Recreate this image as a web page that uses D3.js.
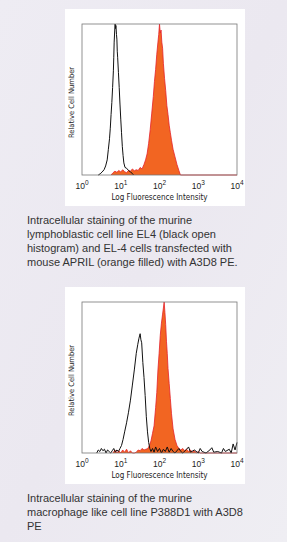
<!DOCTYPE html>
<html>
<head>
<meta charset="utf-8">
<script src="https://cdn.jsdelivr.net/npm/d3@7/dist/d3.min.js"></script>
<style>
  body { margin: 0; padding: 0; overflow: hidden; }
  svg { display: block; }
</style>
</head>
<body>
<div id="container"></div>
<script>
var WIDTH = 287;
var HEIGHT = 542;

// --- data (x = log10 intensity, y = % of max count) ---
const tickDecades = [0, 1, 2, 3, 4];

// panel 1: EL4 (black open) vs EL-4 + APRIL (orange filled)
const el4Log   = [0.42,0.47,0.52,0.57,0.61,0.65,0.68,0.71,0.73,0.75,0.77,0.79,0.81,0.82,0.83,0.845,0.855,0.865,0.875,0.89,0.9,0.91,0.92,0.94,0.96,0.98,1.0,1.02,1.04,1.06,1.08,1.11,1.15,1.2,1.25,1.3,1.33];
const el4Count = [0,0.8,2,3.5,6,10,17,24,31,40,48,58,69,78,88,96,100,97,99,93,90,82,78,68,58,47,37,28,19,13,8,5,4.5,3,2,1,0];

const aprilLog   = [0.75,0.8,0.85,0.9,0.95,1.0,1.05,1.1,1.15,1.2,1.25,1.3,1.35,1.4,1.45,1.5,1.55,1.6,1.64,1.68,1.72,1.76,1.8,1.84,1.87,1.9,1.93,1.96,1.98,2.0,2.02,2.04,2.06,2.08,2.1,2.13,2.16,2.19,2.22,2.25,2.28,2.31,2.35,2.4,2.45,2.5,2.54,4];
const aprilCount = [0,1.5,2.5,1.8,3,2,3.5,2.2,1.5,3,2.5,4,2.8,3.5,3,5,4,7,10,14,21,30,41,52,62,70,80,88,93,100,94,96,88,84,74,64,56,46,40,33,28,23,17,12,7,3,0,0];

// panel 2: P388D1 control (black open) vs stained (orange filled)
const ctrlLog   = [0.38,0.42,0.46,0.5,0.54,0.58,0.62,0.66,0.7,0.74,0.78,0.82,0.86,0.9,0.94,0.98,1.02,1.06,1.1,1.15,1.2,1.25,1.3,1.35,1.4,1.44,1.47,1.5,1.52,1.54,1.57,1.6,1.63,1.66,1.69,1.72,1.75,1.78,1.82,1.86,1.9,1.95,2.0,2.05,2.1,2.15,2.2,2.25,2.3,2.35,2.4,2.5,2.55,2.6,2.7,2.75,2.8,2.9,3.0,3.05,3.1,3.2,3.3,3.35,3.4,3.5,3.6,3.65,3.7,3.8,3.85,3.9,3.95,4.0];
const ctrlCount = [0,2,1,3,1.5,2.5,0,2,1,0,1.5,3,0.5,2,1,3,5,9,14,20,27,35,45,55,66,72,76,79,75,73,60,50,38,24,14,7,3,1,3,0.5,4,1,3,0,2.5,1,4,0.5,3,1,0,3,1,0,2.5,4,0.5,2,0,3,1,0,2,3.5,0.5,1,0,3,1,2.5,0,6,2,7];

const stainLog   = [0.8,0.85,0.9,0.95,1.0,1.05,1.1,1.15,1.2,1.25,1.3,1.35,1.4,1.45,1.5,1.55,1.6,1.65,1.7,1.74,1.78,1.82,1.86,1.9,1.93,1.96,1.99,2.02,2.05,2.08,2.1,2.12,2.14,2.16,2.18,2.2,2.22,2.25,2.28,2.31,2.35,2.4,2.45,2.5,2.55,2.6,2.65,2.7,2.75,2.8,2.85,2.9,2.95,3.0,3.05,4];
const stainCount = [0,2,0,1.5,0,2,0.5,2.5,0,1.5,0,0,0.5,2,1.5,3,2,2.5,3,5,8,13,18,30,40,55,66,78,86,92,96,100,93,85,74,66,56,46,36,26,16,9,5,3,2,3,1.5,2.5,1,2,0.5,1.5,0,1,0,0];

const panels = [
  { top: 9,   open: [el4Log, el4Count],  filled: [aprilLog, aprilCount] },
  { top: 287, open: [ctrlLog, ctrlCount], filled: [stainLog, stainCount] }
];

const captions = [
  ["Intracellular staining of the murine",
   "lymphoblastic cell line EL4 (black open",
   "histogram) and EL-4 cells transfected with",
   "mouse APRIL (orange filled) with A3D8 PE."],
  ["Intracellular staining of the murine",
   "macrophage like cell line P388D1 with A3D8",
   "PE"]
];

const svg = d3.select('#container')
  .append('svg')
    .attr('width', WIDTH)
    .attr('height', HEIGHT);

// page background
const defs = svg.append('defs');
const grad = defs.append('linearGradient')
    .attr('id', 'bg')
    .attr('x1', 0).attr('y1', 0).attr('x2', 1).attr('y2', 1);
grad.append('stop').attr('offset', '0%').attr('stop-color', '#eeecf3');
grad.append('stop').attr('offset', '50%').attr('stop-color', '#ebe8f0');
grad.append('stop').attr('offset', '100%').attr('stop-color', '#efeef3');

svg.append('rect')
    .attr('width', WIDTH)
    .attr('height', HEIGHT)
    .attr('fill', 'url(#bg)');

const PLOT = { LEFT: 82, RIGHT: 237, OFFSET: 15, H: 151 };

const x = d3.scaleLog()
    .domain([1, 10000])
    .range([PLOT.LEFT, PLOT.RIGHT]);

panels.forEach((p, i) => {
  const g = svg.append('g');
  const y0 = p.top + PLOT.OFFSET;
  const y1 = y0 + PLOT.H;

  g.append('rect')
      .attr('x', 65).attr('y', p.top)
      .attr('width', 180).attr('height', 197)
      .attr('fill', 'white');

  const y = d3.scaleLinear()
      .domain([0, 100])
      .range([y1, y0]);

  const toPts = (s) => s[0].map((v, k) => [Math.pow(10, v), s[1][k]]);

  const area = d3.area()
      .x(d => x(d[0]))
      .y0(y(0))
      .y1(d => y(d[1]));
  const line = d3.line()
      .x(d => x(d[0]))
      .y(d => y(d[1]));

  const filled = toPts(p.filled);
  g.append('path')
      .attr('d', area(filled))
      .attr('fill', '#f26522');
  g.append('path')
      .attr('d', line(filled))
      .attr('fill', 'none')
      .attr('stroke', '#e5222a')
      .attr('stroke-width', 0.8);

  g.append('path')
      .attr('d', line(toPts(p.open)))
      .attr('fill', 'none')
      .attr('stroke', '#111')
      .attr('stroke-width', 1);

  // frame
  g.append('rect')
      .attr('x', PLOT.LEFT).attr('y', y0)
      .attr('width', PLOT.RIGHT - PLOT.LEFT).attr('height', PLOT.H)
      .attr('fill', 'none')
      .attr('stroke', '#777')
      .attr('stroke-width', 0.8);

  // tick labels 10^n
  const ticks = g.selectAll('.tick')
      .data(tickDecades)
      .enter()
      .append('text')
      .attr('class', 'tick')
      .attr('x', d => x(Math.pow(10, d)))
      .attr('y', y1 + 14)
      .attr('text-anchor', 'middle')
      .style('font-family', 'Liberation Sans, Arial, sans-serif')
      .style('font-size', '8.5px')
      .attr('fill', '#222');
  ticks.append('tspan').text('10');
  ticks.append('tspan')
      .attr('dy', -4)
      .style('font-size', '6.5px')
      .text(d => d);

  g.append('text')
      .attr('x', (PLOT.LEFT + PLOT.RIGHT) / 2)
      .attr('y', y1 + 25)
      .attr('text-anchor', 'middle')
      .style('font-family', 'DejaVu Sans Condensed, DejaVu Sans, sans-serif')
      .style('font-size', '8px')
      .attr('fill', '#222')
      .text('Log Fluorescence Intensity');

  g.append('text')
      .attr('transform', `translate(74, ${(y0 + y1) / 2 + 3}) rotate(-90)`)
      .attr('text-anchor', 'middle')
      .style('font-family', 'DejaVu Sans Condensed, DejaVu Sans, sans-serif')
      .style('font-size', '7.5px')
      .attr('fill', '#222')
      .text('Relative Cell Number');

  // caption
  const cap = svg.append('text')
      .style('font-family', 'Liberation Sans, Arial, sans-serif')
      .style('font-size', '11px')
      .attr('fill', '#333');
  cap.selectAll('tspan')
      .data(captions[i])
      .enter()
      .append('tspan')
      .attr('x', 27)
      .attr('y', (d, k) => p.top + 214.5 + k * 14)
      .text(d => d);
});
</script>
</body>
</html>
